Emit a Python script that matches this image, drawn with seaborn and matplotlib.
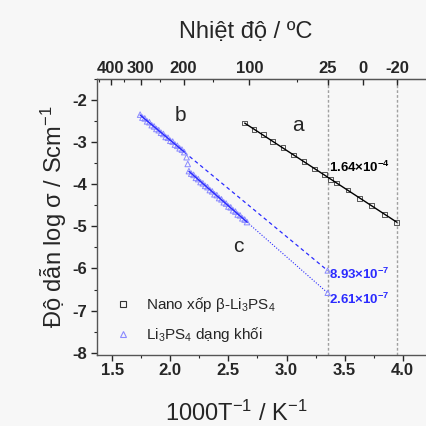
import numpy as np
import matplotlib
matplotlib.use("Agg")
import matplotlib.pyplot as plt
import seaborn as sns
from matplotlib.ticker import FixedLocator, MultipleLocator
from matplotlib.lines import Line2D

# -----------------------------
# Data
# -----------------------------
# a: nano porous beta-Li3PS4 (squares)
a_x = [2.64, 2.72, 2.80, 2.88, 2.97, 3.06, 3.15, 3.24, 3.33, 3.38, 3.43, 3.53, 3.63, 3.73, 3.84, 3.95]
a_y = [-2.55, -2.70, -2.83, -2.99, -3.13, -3.31, -3.46, -3.64, -3.78, -3.89, -3.97, -4.14, -4.34, -4.50, -4.71, -4.90]

# b: bulk Li3PS4, high temperature part (triangles)
b_x = [1.74, 1.76, 1.78, 1.80, 1.82, 1.84, 1.86, 1.88, 1.90, 1.92, 1.94, 1.96,
       1.98, 2.00, 2.02, 2.04, 2.06, 2.08, 2.10, 2.12]
b_y = [-2.35, -2.42, -2.44, -2.51, -2.53, -2.60, -2.63, -2.69, -2.72, -2.78, -2.81, -2.88,
       -2.90, -2.97, -2.99, -3.06, -3.09, -3.15, -3.18, -3.24]

# c: bulk Li3PS4, low temperature part (triangles)
c_x = [2.14, 2.15, 2.16, 2.18, 2.20, 2.22, 2.24, 2.26, 2.28, 2.30, 2.32, 2.34, 2.36,
       2.38, 2.40, 2.42, 2.44, 2.46, 2.48, 2.50, 2.52, 2.54, 2.56, 2.58,
       2.60, 2.62, 2.64, 2.66]
c_y = [-3.36, -3.52, -3.69, -3.75, -3.78, -3.85, -3.88, -3.95, -3.98, -4.04, -4.07, -4.14, -4.17,
       -4.24, -4.26, -4.33, -4.36, -4.43, -4.46, -4.53, -4.55, -4.62, -4.65, -4.72,
       -4.74, -4.81, -4.84, -4.90]

# extrapolated values at 25 C
x_25 = 1000 / 298.15
x_m20 = 1000 / 253.15
b_25 = -6.05
c_25 = -6.58

top_temps = [400, 300, 200, 100, 25, 0, -20]
top_minor = [450, 350, 250, 150, 50]

labels_25 = ["1.64×10$^{-4}$", "8.93×10$^{-7}$", "2.61×10$^{-7}$"]

# -----------------------------
# Style
# -----------------------------
sns.set_style("ticks")
plt.rcParams["font.family"] = ["Liberation Sans", "DejaVu Sans"]
plt.rcParams["mathtext.default"] = "regular"
plt.rcParams["axes.unicode_minus"] = False

blue = "#2b2bff"
light_blue = "#8a8aff"

fig = plt.figure(figsize=(4.26, 4.26), dpi=100, facecolor="#f7f7f7")
ax = fig.add_axes([0.228, 0.167, 0.78, 0.648])
ax.set_facecolor("#f7f7f7")

# vertical reference lines at 25 C and -20 C
for xv in [x_25, x_m20]:
    ax.axvline(xv, color="#a0a0a0", linestyle=(0, (2, 1.5)), linewidth=1.0, zorder=1)

# data points
sns.scatterplot(x=a_x, y=a_y, ax=ax, marker="s", s=12, facecolor="none",
                edgecolor="#555555", linewidth=0.7, zorder=3)
sns.scatterplot(x=b_x + c_x, y=b_y + c_y, ax=ax, marker="^", s=16, facecolor="none",
                edgecolor=light_blue, linewidth=0.7, zorder=3)

# fits
pa = np.polyfit(a_x, a_y, 1)
xa = np.array([a_x[0], a_x[-1]])
ax.plot(xa, np.polyval(pa, xa), color="black", linewidth=1.0, zorder=4)

pb = np.polyfit(b_x, b_y, 1)
xb = np.array([b_x[0], b_x[-1]])
ax.plot(xb, np.polyval(pb, xb), color=blue, linewidth=1.0, zorder=4)
ax.plot([b_x[-1], x_25], [b_y[-1], b_25], color=blue, linewidth=0.9,
        linestyle=(0, (3, 2.5)), zorder=2)

pc = np.polyfit(c_x[2:], c_y[2:], 1)
xc = np.array([c_x[2], c_x[-1]])
ax.plot(xc, np.polyval(pc, xc), color=blue, linewidth=1.0, zorder=4)
ax.plot([c_x[-1], x_25], [c_y[-1], c_25], color=blue, linewidth=0.8,
        linestyle=(0, (1, 1.5)), zorder=2)

sns.scatterplot(x=[x_25, x_25], y=[b_25, c_25], ax=ax, marker="^", s=14,
                facecolor="none", edgecolor=light_blue, linewidth=0.7, zorder=3)

# curve letters
ax.text(2.04, -2.5, "b", fontsize=15)
ax.text(3.05, -2.75, "a", fontsize=15)
ax.text(2.54, -5.6, "c", fontsize=15)

# values at 25 C
ax.text(3.37, -3.72, labels_25[0], fontsize=9.5, fontweight="bold", color="black")
ax.text(3.37, -6.25, labels_25[1], fontsize=9.5, fontweight="bold", color=blue)
ax.text(3.37, -6.85, labels_25[2], fontsize=9.5, fontweight="bold", color=blue)

# legend
handles = [
    Line2D([], [], marker="s", linestyle="none", markerfacecolor="none",
           markeredgecolor="#333333", markersize=4, markeredgewidth=0.8),
    Line2D([], [], marker="^", linestyle="none", markerfacecolor="none",
           markeredgecolor=light_blue, markersize=4.5, markeredgewidth=0.8),
]
ax.legend(handles, ["Nano xốp β-Li$_3$PS$_4$", "Li$_3$PS$_4$ dạng khối"],
          loc="lower left", bbox_to_anchor=(0.008, -0.012), frameon=False,
          fontsize=11, handletextpad=0.9, labelspacing=0.75, handlelength=1.2)

# axes
ax.set_xlim(1.37, 4.23)
ax.set_ylim(-8.05, -1.5)
ax.xaxis.set_major_locator(FixedLocator([1.5, 2.0, 2.5, 3.0, 3.5, 4.0]))
ax.xaxis.set_minor_locator(MultipleLocator(0.25))
ax.yaxis.set_major_locator(FixedLocator([-8, -7, -6, -5, -4, -3, -2]))
ax.yaxis.set_minor_locator(MultipleLocator(0.5))
ax.tick_params(axis="both", which="major", labelsize=12, length=4, width=1, direction="out")
ax.tick_params(axis="x", which="major", pad=2)
ax.tick_params(axis="both", which="minor", length=2, width=0.8, direction="out")
for lab in ax.get_xticklabels() + ax.get_yticklabels():
    lab.set_fontweight("bold")

ax.set_xlabel("1000T$^{-1}$ / K$^{-1}$", fontsize=17)
ax.xaxis.set_label_coords(0.42, -0.165)
ax.set_ylabel("Độ dẫn log σ / Scm$^{-1}$", fontsize=17, labelpad=2)

sns.despine(ax=ax, right=True, top=False)
for sp in ["left", "bottom", "top"]:
    ax.spines[sp].set_color("#555555")
    ax.spines[sp].set_linewidth(1.0)

# top temperature axis
top = ax.twiny()
top.set_xlim(ax.get_xlim())
top.xaxis.set_major_locator(FixedLocator([1000 / (t + 273.15) for t in top_temps]))
top.xaxis.set_minor_locator(FixedLocator([1000 / (t + 273.15) for t in top_minor]))
top.set_xticklabels([str(t) for t in top_temps], fontsize=12, fontweight="bold")
top.tick_params(axis="x", which="major", length=4, width=1, direction="in", pad=2)
top.tick_params(axis="x", which="minor", length=2, width=0.8, direction="in")
top.set_xlabel("Nhiệt độ / ºC", fontsize=17)
top.xaxis.set_label_coords(0.446, 1.148)
for sp in ["left", "right", "bottom"]:
    top.spines[sp].set_visible(False)
top.spines["top"].set_color("#555555")

fig.savefig("out.png", dpi=100, facecolor=fig.get_facecolor())
